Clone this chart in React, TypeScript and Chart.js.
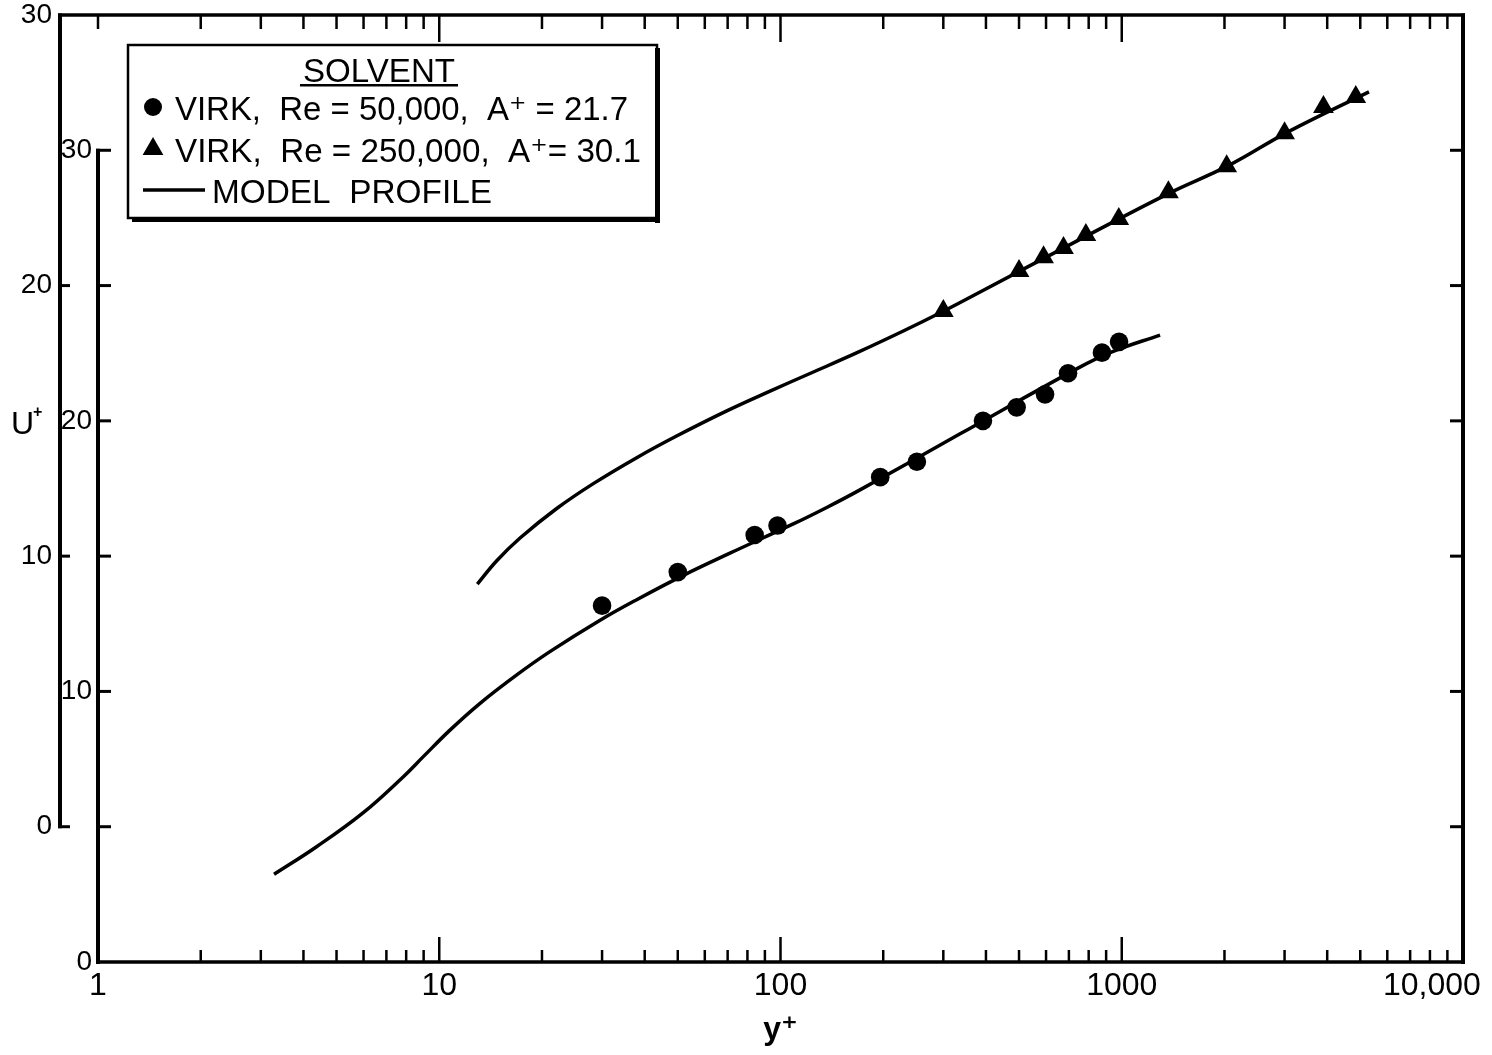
import React, { useEffect, useRef } from 'react';
import { Chart, registerables } from 'chart.js';

Chart.register(...registerables);

const FONT = "'Liberation Sans', 'DejaVu Sans', Arial, sans-serif";

// ---- data ----
// Virk, Re = 50,000, A+ = 21.7 (circles, inner U+ axis)
const circleYPlus = [30, 50, 84, 98, 196, 251, 392, 492, 596, 696, 875, 982];
const circleUPlus = [13.17, 14.41, 15.78, 16.13, 17.92, 18.49, 20.0, 20.5, 20.98, 21.76, 22.52, 22.92];

// Virk, Re = 250,000, A+ = 30.1 (triangles, outer U+ axis)
const triYPlus = [300, 500, 590, 675, 785, 980, 1370, 2030, 3000, 3900, 4850];
const triUPlus = [19.06, 20.54, 21.05, 21.39, 21.87, 22.46, 23.45, 24.41, 25.63, 26.6, 26.97];

// model profile, A+ = 21.7 (inner axis)
const modelLowYPlus = [3.28, 4.37, 5.99, 7.85, 8.98, 10.75, 13.17, 16.87, 21.1, 29.6, 37.9, 51.9, 71.1, 109, 136.6, 171, 336, 742, 936, 1295];
const modelLowUPlus = [3.24, 4.26, 5.52, 6.85, 7.59, 8.57, 9.56, 10.61, 11.47, 12.63, 13.39, 14.29, 15.11, 16.19, 16.8, 17.45, 19.52, 21.94, 22.55, 23.17];

// model profile, A+ = 30.1 (outer axis)
const modelHighYPlus = [12.93, 14.74, 17.25, 22.09, 28.28, 37.9, 49.6, 69.6, 93.2, 122, 167, 229, 300, 387, 815, 1375, 2067, 3071, 5303];
const modelHighUPlus = [8.97, 9.83, 10.67, 11.76, 12.68, 13.64, 14.44, 15.37, 16.1, 16.75, 17.51, 18.32, 19.05, 19.78, 21.93, 23.41, 24.45, 25.68, 27.16];

// ---- tick definitions ----
const xDecades = [1, 10, 100, 1000, 10000];
const xDecadeLabels = ['1', '10', '100', '1000', '10,000\u00A0\u00A0\u00A0\u00A0\u00A0\u00A0\u00A0'];
const xMinorMultipliers = [1, 2, 3, 4, 5, 6, 7, 8, 9];
const yInnerTicks = [0, 5, 10, 15, 20, 25, 30];
const yOuterTicks = [0, 10, 20, 30];
const yLabelled = [0, 10, 20, 30];

const legendTitle = 'SOLVENT';
const legendRow1 = 'VIRK,  Re = 50,000,  A\u207A = 21.7';
const legendRow2 = 'VIRK,  Re = 250,000,  A\u207A= 30.1';
const legendRow3 = 'MODEL  PROFILE';

const toPoints = (xs: number[], ys: number[]) => xs.map((x, i) => ({ x, y: ys[i] }));

function xTickList() {
  const out: { value: number }[] = [];
  for (let d = 0; d < xDecades.length - 1; d++) {
    for (const m of xMinorMultipliers) out.push({ value: xDecades[d] * m });
  }
  out.push({ value: xDecades[xDecades.length - 1] });
  return out;
}

function isDecade(v: number) {
  return xDecades.some((d) => Math.abs(d - v) < 1e-9);
}

function fitText(ctx: CanvasRenderingContext2D, text: string, x: number, baseline: number, width: number, size: number) {
  ctx.save();
  ctx.font = `${size}px ${FONT}`;
  const w = ctx.measureText(text).width;
  ctx.translate(x, baseline);
  ctx.scale(width / w, 1);
  ctx.textAlign = 'left';
  ctx.textBaseline = 'alphabetic';
  ctx.fillText(text, 0, 0);
  ctx.restore();
}

const framePlugin = {
  id: 'framePlugin',
  beforeDatasetsDraw(chart: any) {
    const { ctx, chartArea: ca, scales } = chart;
    const xs = scales.x;
    const yi = scales.yInner;
    const yo = scales.yOuter;
    const L = ca.left;
    const R = ca.right;
    const T = ca.top;
    const B = ca.bottom;
    ctx.save();
    ctx.strokeStyle = '#000';
    ctx.lineCap = 'butt';
    const line = (x1: number, y1: number, x2: number, y2: number, w: number) => {
      ctx.lineWidth = w;
      ctx.beginPath();
      ctx.moveTo(x1, y1);
      ctx.lineTo(x2, y2);
      ctx.stroke();
    };
    // outer axis
    const xo = yo.right;
    const yo0 = yo.getPixelForValue(0);
    line(xo, T - 1.5, xo, yo0 + 1.5, 4);
    yo.ticks.forEach((t: any) => {
      if (t.value >= 0 && t.value < 30) {
        const p = yo.getPixelForValue(t.value);
        line(xo - 2, p, xo + 10, p, 3);
      }
    });
    // frame
    line(xo - 2, T, R + 2, T, 3.5);
    line(R, T - 1.5, R, B + 2, 4);
    line(L - 2, B, R + 2, B, 3.5);
    // inner axis
    const yi30 = yi.getPixelForValue(30);
    line(L, yi30 - 1.5, L, B + 2, 4);
    yi.ticks.forEach((t: any) => {
      if (t.value > 0 && t.value <= 30) {
        const p = yi.getPixelForValue(t.value);
        line(L - 2, p, L + 13, p, 3);
        line(R + 2, p, R - 13, p, 3);
      }
    });
    // x ticks (bottom and top, inward)
    xs.ticks.forEach((t: any) => {
      const v = t.value;
      const p = xs.getPixelForValue(v);
      const major = isDecade(v) && v > 1;
      if (v > 1 && v < 10000) line(p, B, p, B - (major ? 25 : 12), 2.5);
      if (v < 10000) line(p, T, p, T + (major ? 27 : 14), 2.5);
    });
    ctx.restore();
  },
  afterDraw(chart: any) {
    const { ctx } = chart;
    ctx.save();
    // U+ label
    ctx.fillStyle = '#000';
    ctx.textAlign = 'left';
    ctx.textBaseline = 'alphabetic';
    ctx.font = `32px ${FONT}`;
    ctx.fillText('U', 11, 434);
    ctx.font = `bold 16px ${FONT}`;
    ctx.fillText('+', 33, 417);

    // legend box
    ctx.fillStyle = '#fff';
    ctx.fillRect(128, 45, 529, 173);
    ctx.strokeStyle = '#000';
    ctx.lineWidth = 2.5;
    ctx.strokeRect(128, 45, 529, 173);
    ctx.fillStyle = '#000';
    ctx.fillRect(655, 48, 5, 175);
    ctx.fillRect(132, 217, 528, 5);

    fitText(ctx, legendTitle, 303, 82, 152, 34);
    ctx.fillRect(300, 84, 158, 2.5);
    // row markers
    ctx.beginPath();
    ctx.arc(153, 107, 9, 0, Math.PI * 2);
    ctx.fill();
    ctx.beginPath();
    const r = 12;
    ctx.moveTo(153, 149 - r);
    ctx.lineTo(153 + r * Math.sin((2 * Math.PI) / 3), 149 - r * Math.cos((2 * Math.PI) / 3));
    ctx.lineTo(153 + r * Math.sin((4 * Math.PI) / 3), 149 - r * Math.cos((4 * Math.PI) / 3));
    ctx.closePath();
    ctx.fill();
    ctx.strokeStyle = '#000';
    ctx.lineWidth = 3.5;
    ctx.beginPath();
    ctx.moveTo(143, 190);
    ctx.lineTo(205, 190);
    ctx.stroke();

    fitText(ctx, legendRow1, 175, 120, 453, 34);
    fitText(ctx, legendRow2, 175, 162, 466, 34);
    fitText(ctx, legendRow3, 212, 203, 280, 34);
    ctx.restore();
  },
};

export default function App() {
  const ref = useRef<HTMLCanvasElement>(null);

  useEffect(() => {
    const canvas = ref.current;
    if (!canvas) return;
    const tickFontSmall = { family: FONT, size: 28 };
    const chart = new Chart(canvas, {
      type: 'scatter',
      data: {
        datasets: [
          {
            label: 'VIRK, Re = 50,000, A+ = 21.7',
            data: toPoints(circleYPlus, circleUPlus),
            yAxisID: 'yInner',
            pointStyle: 'circle',
            pointRadius: 9.3,
            pointBackgroundColor: '#000',
            pointBorderWidth: 0,
            showLine: false,
          },
          {
            label: 'VIRK, Re = 250,000, A+ = 30.1',
            data: toPoints(triYPlus, triUPlus),
            yAxisID: 'yOuter',
            pointStyle: 'triangle',
            pointRadius: 12,
            pointBackgroundColor: '#000',
            pointBorderWidth: 0,
            showLine: false,
          },
          {
            label: 'MODEL PROFILE (A+ = 21.7)',
            data: toPoints(modelLowYPlus, modelLowUPlus),
            yAxisID: 'yInner',
            showLine: true,
            pointRadius: 0,
            borderColor: '#000',
            borderWidth: 3.5,
            tension: 0.4,
          },
          {
            label: 'MODEL PROFILE (A+ = 30.1)',
            data: toPoints(modelHighYPlus, modelHighUPlus),
            yAxisID: 'yOuter',
            showLine: true,
            pointRadius: 0,
            borderColor: '#000',
            borderWidth: 3.5,
            tension: 0.4,
          },
        ],
      },
      options: {
        responsive: false,
        animation: false,
        devicePixelRatio: 1,
        layout: { autoPadding: false, padding: { left: 0, top: 15, right: 29, bottom: 0 } },
        plugins: { legend: { display: false }, tooltip: { enabled: false } },
        scales: {
          x: {
            type: 'logarithmic',
            position: 'bottom',
            min: 1,
            max: 10000,
            grid: { display: false, drawTicks: false },
            border: { display: false },
            afterBuildTicks: (s: any) => {
              s.ticks = xTickList();
            },
            afterFit: (s: any) => {
              s.height = 93;
              s.paddingLeft = 0;
              s.paddingRight = 0;
            },
            ticks: {
              autoSkip: false,
              maxRotation: 0,
              minRotation: 0,
              padding: 5,
              color: '#000',
              font: { family: FONT, size: 32 },
              callback: (v: any) => {
                const i = xDecades.findIndex((d) => Math.abs(d - Number(v)) < 1e-9);
                return i >= 0 ? xDecadeLabels[i] : '';
              },
            },
            title: {
              display: true,
              text: 'y\u207A',
              color: '#000',
              font: { family: FONT, size: 32, weight: 'bold' },
              padding: { top: 0, bottom: 6 },
            },
          },
          yInner: {
            type: 'linear',
            position: 'left',
            weight: 0,
            min: 0,
            max: 35,
            grid: { display: false, drawTicks: false },
            border: { display: false },
            afterBuildTicks: (s: any) => {
              s.ticks = yInnerTicks.map((value) => ({ value }));
            },
            afterFit: (s: any) => {
              s.width = 38;
              s.paddingTop = 0;
              s.paddingBottom = 0;
            },
            ticks: {
              autoSkip: false,
              padding: 6,
              color: '#000',
              font: tickFontSmall,
              callback: (v: any) => (yLabelled.includes(Number(v)) ? String(v) : ''),
            },
          },
          yOuter: {
            type: 'linear',
            position: 'left',
            weight: 1,
            min: -5,
            max: 30,
            grid: { display: false, drawTicks: false },
            border: { display: false },
            afterBuildTicks: (s: any) => {
              s.ticks = yOuterTicks.map((value) => ({ value }));
            },
            afterFit: (s: any) => {
              s.width = 60;
              s.paddingTop = 0;
              s.paddingBottom = 0;
            },
            ticks: {
              autoSkip: false,
              padding: 8,
              color: '#000',
              font: tickFontSmall,
              callback: (v: any) => (yLabelled.includes(Number(v)) ? String(v) : ''),
            },
          },
        },
      },
      plugins: [framePlugin],
    } as any);
    return () => chart.destroy();
  }, []);

  return (
    <div style={{ position: 'absolute', left: 0, top: 0, width: 1492, height: 1055, background: '#fff' }}>
      <canvas ref={ref} width={1492} height={1055} style={{ display: 'block' }} />
    </div>
  );
}
